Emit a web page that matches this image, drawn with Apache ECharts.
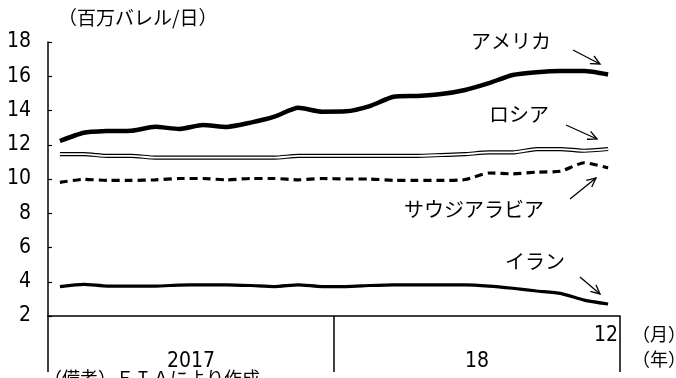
<!DOCTYPE html>
<html>
<head>
<meta charset="utf-8">
<script src="https://cdn.jsdelivr.net/npm/echarts@6/dist/echarts.min.js"></script>
<style>
html,body{margin:0;padding:0;background:#fff;}
#chart{width:676px;height:378px;}
</style>
</head>
<body>
<div id="chart"></div>
<script>
// Monthly crude oil production, Jan 2017 – Dec 2018 (million barrels/day)
const months = ['1','2','3','4','5','6','7','8','9','10','11','12',
                '1','2','3','4','5','6','7','8','9','10','11','12'];
const years = ['2017', '18'];
const usa    = [12.22,12.70,12.80,12.82,13.05,12.92,13.15,13.04,13.29,13.64,14.16,13.93,
                13.95,14.26,14.80,14.85,14.96,15.20,15.60,16.07,16.23,16.30,16.30,16.10];
const russia = [11.45,11.45,11.35,11.35,11.25,11.25,11.25,11.25,11.25,11.25,11.35,11.35,
                11.35,11.35,11.35,11.35,11.40,11.45,11.55,11.55,11.75,11.75,11.65,11.75];
const saudi  = [9.80,9.98,9.92,9.92,9.95,10.03,10.03,9.95,10.03,10.03,9.95,10.03,
                10.00,10.00,9.92,9.92,9.92,9.97,10.35,10.30,10.40,10.45,10.95,10.65];
const iran   = [3.72,3.85,3.75,3.75,3.75,3.80,3.82,3.82,3.78,3.72,3.82,3.72,
                3.72,3.78,3.82,3.82,3.82,3.82,3.75,3.62,3.46,3.32,2.93,2.70];
const yTicks = [2,4,6,8,10,12,14,16,18];

const numFont = '"Liberation Sans Narrow","DejaVu Sans Condensed","Liberation Sans",sans-serif';
const jpFont = '"Noto Sans CJK JP",sans-serif';

const chart = echarts.init(document.getElementById('chart'), null, {renderer:'canvas'});

function arrow(x1, y1, x2, y2) {
  const ang = Math.atan2(y2 - y1, x2 - x1);
  const h = 10, w = 0.45;
  return [
    {type:'line', shape:{x1, y1, x2, y2}, style:{stroke:'#000', lineWidth:1.3}},
    {type:'polyline', shape:{points:[
      [x2 - h*Math.cos(ang - w), y2 - h*Math.sin(ang - w)],
      [x2, y2],
      [x2 - h*Math.cos(ang + w), y2 - h*Math.sin(ang + w)]
    ]}, style:{stroke:'#000', lineWidth:1.3, fill:null}}
  ];
}

function label(text, x, y) {
  return {type:'text', left:x, top:y, style:{text, font:'20px ' + jpFont, fill:'#000'}};
}

const lineBase = {type:'line', smooth:0.2, symbol:'none', xAxisIndex:0, yAxisIndex:0};

chart.setOption({
  animation:false,
  grid:{left:48, right:56, top:42, bottom:62},
  xAxis:[{
    type:'category', data:months, boundaryGap:true, position:'bottom',
    axisLine:{show:true, lineStyle:{color:'#000', width:1.5}},
    axisTick:{show:false},
    axisLabel:{
      interval:0, margin:9, fontFamily:numFont, fontSize:21, color:'#000',
      formatter:(v, i) => i === months.length - 1 ? v : '', align:'right', padding:[0,-10,0,0]
    },
    splitLine:{show:false}
  },{
    type:'category', data:years, boundaryGap:true, position:'bottom',
    axisLine:{show:false},
    axisTick:{show:true, length:56, lineStyle:{color:'#000', width:1.5}},
    axisLabel:{margin:35, fontFamily:numFont, fontSize:21, color:'#000'},
    splitLine:{show:false}
  }],
  yAxis:{
    type:'value', min:yTicks[0], max:yTicks[yTicks.length-1], interval:2,
    axisLine:{show:true, lineStyle:{color:'#000', width:1.5}},
    axisTick:{show:true, inside:true, length:4, lineStyle:{color:'#000', width:1.2}},
    axisLabel:{fontFamily:numFont, fontSize:21, color:'#000', margin:17},
    splitLine:{show:false}
  },
  series:[
    Object.assign({}, lineBase, {name:'アメリカ', data:usa, lineStyle:{color:'#000', width:4.5}, z:5}),
    // double line: a black stroke with a white core
    Object.assign({}, lineBase, {name:'ロシア', data:russia, lineStyle:{color:'#000', width:4.2}, z:3}),
    Object.assign({}, lineBase, {name:'ロシア内側', data:russia, lineStyle:{color:'#fff', width:1.8}, z:4}),
    Object.assign({}, lineBase, {name:'サウジアラビア', data:saudi, lineStyle:{color:'#000', width:3.2, type:[8,5]}, z:3}),
    Object.assign({}, lineBase, {name:'イラン', data:iran, lineStyle:{color:'#000', width:3.2}, z:3})
  ],
  graphic:[
    {type:'text', left:58, top:8, style:{text:'（百万バレル/日）', font:'19px ' + jpFont, fill:'#000'}},
    label('アメリカ', 471, 31),
    label('ロシア', 489, 104),
    label('サウジアラビア', 404, 199),
    label('イラン', 505, 251),
    ...arrow(573, 50, 600, 64),
    ...arrow(566, 125, 597, 139),
    ...arrow(570, 199, 596, 178),
    ...arrow(580, 277, 600, 294),
    {type:'text', left:632, top:325, style:{text:'（月）', font:'18px ' + jpFont, fill:'#000'}},
    {type:'text', left:632, top:350, style:{text:'（年）', font:'18px ' + jpFont, fill:'#000'}},
    {type:'text', left:44, top:369, style:{text:'（備考）ＥＩＡにより作成', font:'18px ' + jpFont, fill:'#000'}}
  ]
});
</script>
</body>
</html>
